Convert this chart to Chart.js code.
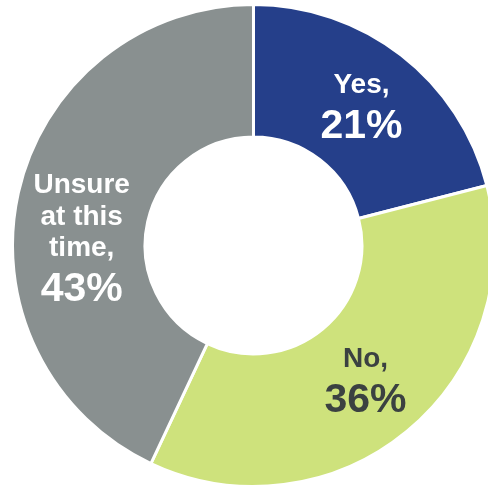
<!DOCTYPE html>
<html>
<head>
<meta charset="utf-8">
<script src="https://cdn.jsdelivr.net/npm/chart.js@4"></script>
<style>
  html, body { margin: 0; padding: 0; background: #ffffff; overflow: hidden; }
  body { width: 488px; height: 486px; position: relative; }
  #wrap { position: absolute; left: 11px; top: 3px; width: 485px; height: 485px; }
</style>
</head>
<body>
<div id="wrap"><canvas id="c" width="485" height="485"></canvas></div>
<script>
// Survey answers and their shares (percent)
const categories = ['Yes', 'No', 'Unsure at this time'];
const labelLines = [['Yes,'], ['No,'], ['Unsure', 'at this', 'time,']];
const shares = [21, 36, 43];
const sliceColors = ['#253f8a', '#cee27c', '#899090'];
const textColors = ['#ffffff', '#3b4141', '#ffffff'];

// Writes each slice's caption and percentage inside the ring
const sliceLabels = {
  id: 'sliceLabels',
  afterDatasetsDraw(chart, args, opts) {
    const ctx = chart.ctx;
    const meta = chart.getDatasetMeta(0);
    meta.data.forEach((arc, i) => {
      const ang = (opts.angles[i] - 90) * Math.PI / 180;
      const cx = arc.x + Math.cos(ang) * opts.radii[i];
      const cy = arc.y + Math.sin(ang) * opts.radii[i];
      const lines = labelLines[i];
      const capTop = 20;
      const blockH = capTop + (lines.length - 1) * opts.lineGap + opts.valueGap;
      let y = cy - blockH / 2 + capTop;
      ctx.save();
      ctx.fillStyle = textColors[i];
      ctx.textAlign = 'center';
      ctx.textBaseline = 'alphabetic';
      ctx.font = 'bold 28px "Liberation Sans", Arial, sans-serif';
      lines.forEach((ln, k) => {
        ctx.fillText(ln, cx, y);
        if (k < lines.length - 1) y += opts.lineGap;
      });
      y += opts.valueGap;
      ctx.font = 'bold 41px "Liberation Sans", Arial, sans-serif';
      ctx.fillText(shares[i] + '%', cx, y);
      ctx.restore();
    });
  }
};

new Chart(document.getElementById('c'), {
  type: 'doughnut',
  data: {
    labels: categories,
    datasets: [{
      data: shares,
      backgroundColor: sliceColors,
      borderColor: '#ffffff',
      borderWidth: 3,
      hoverOffset: 0
    }]
  },
  options: {
    responsive: false,
    animation: false,
    cutout: '45%',
    layout: { padding: 0 },
    plugins: {
      legend: { display: false },
      tooltip: { enabled: false },
      sliceLabels: {
        angles: [37.6, 140.2, 272.8],
        radii: [177, 175, 172],
        lineGap: 31.5,
        valueGap: 45
      }
    }
  },
  plugins: [sliceLabels]
});
</script>
</body>
</html>
